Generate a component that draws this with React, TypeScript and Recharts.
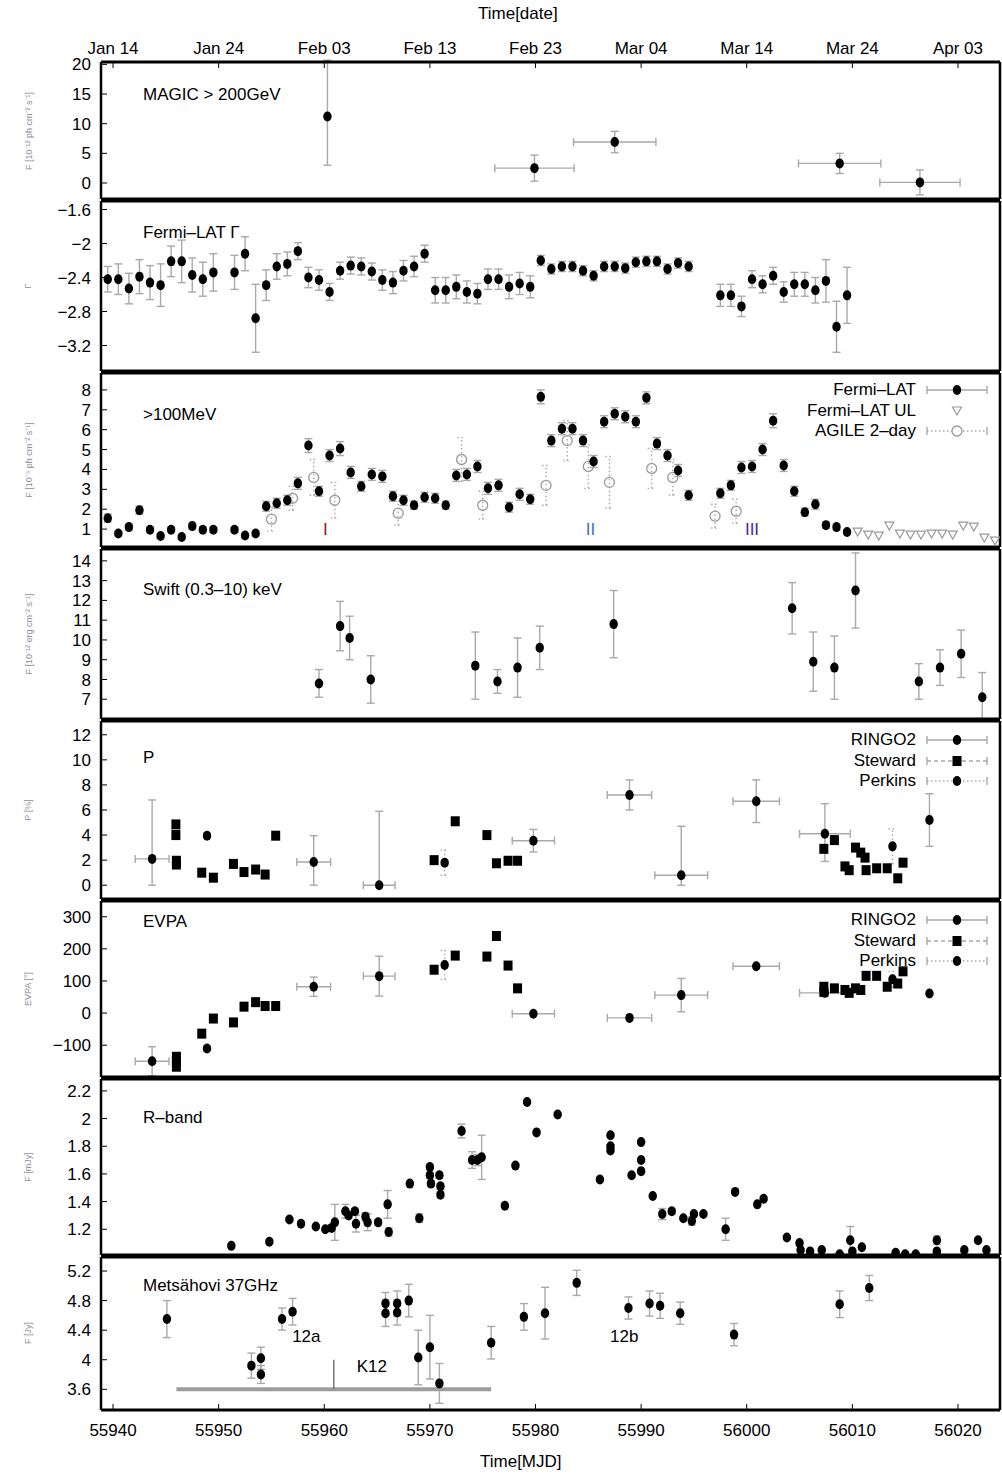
import React from "react";
import { ScatterChart, Scatter, XAxis, YAxis, ErrorBar, ReferenceLine } from "recharts";

const W = 1002;
const FONT = '"Liberation Sans", Arial, Helvetica, sans-serif';
const GREY = "#a9a9a9";
const X_DOMAIN: [number, number] = [55938.86, 56023.98];

const mjdTicks = [55940, 55950, 55960, 55970, 55980, 55990, 56000, 56010, 56020];
const dateLabels = ["Jan 14", "Jan 24", "Feb 03", "Feb 13", "Feb 23", "Mar 04", "Mar 14", "Mar 24", "Apr 03"];

// MAGIC > 200 GeV
const magicX = [55960.3, 55979.9, 55987.5, 56008.8, 56016.4];
const magicY = [11.2, 2.5, 6.9, 3.3, 0.1];
const magicEy: (number | number[])[] = [[8.2, 9.5], 2.2, 1.8, 1.7, 2.1];
const magicEx = [0, 3.75, 3.9, 3.9, 3.8];

// Fermi-LAT daily bins
const latX = [
  55939.5, 55940.5, 55941.5, 55942.5, 55943.5, 55944.5, 55945.5, 55946.5, 55947.5, 55948.5, 55949.5,
  55951.5, 55952.5, 55953.5, 55954.5, 55955.5, 55956.5, 55957.5, 55958.5, 55959.5, 55960.5,
  55961.5, 55962.5, 55963.5, 55964.5, 55965.5, 55966.5, 55967.5, 55968.5, 55969.5, 55970.5,
  55971.5, 55972.5, 55973.5, 55974.5, 55975.5, 55976.5, 55977.5, 55978.5, 55979.5, 55980.5,
  55981.5, 55982.5, 55983.5, 55984.5, 55985.5, 55986.5, 55987.5, 55988.5, 55989.5, 55990.5,
  55991.5, 55992.5, 55993.5, 55994.5,
  55997.5, 55998.5, 55999.5, 56000.5, 56001.5, 56002.5, 56003.5, 56004.5, 56005.5, 56006.5, 56007.5, 56008.5, 56009.5,
];
const gammaY = [
  -2.42, -2.42, -2.53, -2.39, -2.46, -2.49, -2.21, -2.21, -2.37, -2.42, -2.34,
  -2.34, -2.12, -2.88, -2.49, -2.27, -2.24, -2.09, -2.4, -2.43, -2.57,
  -2.32, -2.26, -2.27, -2.33, -2.43, -2.46, -2.32, -2.27, -2.12, -2.55,
  -2.55, -2.51, -2.57, -2.59, -2.42, -2.42, -2.51, -2.47, -2.51, -2.2,
  -2.3, -2.27, -2.27, -2.32, -2.38, -2.27, -2.27, -2.29, -2.22, -2.21,
  -2.21, -2.3, -2.23, -2.27,
  -2.61, -2.61, -2.74, -2.42, -2.48, -2.38, -2.57, -2.48, -2.48, -2.55, -2.44, -2.98, -2.61,
];
const gammaE = [
  0.15, 0.18, 0.18, 0.2, 0.2, 0.25, 0.18, 0.25, 0.2, 0.2, 0.22,
  0.2, 0.2, 0.4, 0.18, 0.15, 0.14, 0.1, 0.12, 0.12, 0.1,
  0.1, 0.1, 0.1, 0.1, 0.12, 0.13, 0.12, 0.12, 0.1, 0.15,
  0.15, 0.14, 0.13, 0.12, 0.12, 0.12, 0.14, 0.13, 0.13, 0.06,
  0.06, 0.06, 0.06, 0.06, 0.06, 0.06, 0.06, 0.06, 0.06, 0.06,
  0.06, 0.06, 0.06, 0.06,
  0.13, 0.13, 0.12, 0.1, 0.1, 0.1, 0.12, 0.14, 0.14, 0.15, 0.25, 0.3, 0.33,
];
const fluxY = [
  1.55, 0.78, 1.1, 1.95, 0.97, 0.65, 0.97, 0.6, 1.15, 0.97, 0.97,
  0.97, 0.68, 0.78, 2.15, 2.3, 2.45, 3.3, 5.2, 2.9, 4.7,
  5.05, 3.85, 3.15, 3.75, 3.65, 2.65, 2.45, 2.2, 2.6, 2.55,
  2.2, 3.7, 3.75, 4.15, 3.05, 3.2, 2.1, 2.75, 2.5, 7.65,
  5.45, 6.05, 6.05, 5.45, 4.4, 6.4, 6.8, 6.65, 6.4, 7.6,
  5.3, 4.7, 3.95, 2.7,
  2.8, 3.2, 4.1, 4.15, 5.0, 6.45, 4.2, 2.9, 1.85, 2.25, 1.2, 1.1, 0.85,
];
const fluxE = [
  0.2, 0.12, 0.15, 0.2, 0.12, 0.1, 0.12, 0.1, 0.15, 0.12, 0.12,
  0.12, 0.1, 0.12, 0.25, 0.25, 0.25, 0.3, 0.35, 0.25, 0.3,
  0.35, 0.3, 0.25, 0.3, 0.3, 0.25, 0.25, 0.2, 0.25, 0.25,
  0.2, 0.3, 0.3, 0.3, 0.3, 0.3, 0.25, 0.3, 0.25, 0.35,
  0.3, 0.3, 0.3, 0.3, 0.3, 0.3, 0.3, 0.3, 0.3, 0.3,
  0.3, 0.3, 0.3, 0.25,
  0.25, 0.25, 0.3, 0.3, 0.3, 0.35, 0.3, 0.25, 0.2, 0.25, 0.15, 0.15, 0.12,
];
const ulX = [56010.5, 56011.5, 56012.5, 56013.5, 56014.5, 56015.5, 56016.5, 56017.5, 56018.5, 56019.5, 56020.5, 56021.5, 56022.5, 56023.5];
const ulY = [0.85, 0.7, 0.65, 1.15, 0.75, 0.7, 0.7, 0.75, 0.75, 0.7, 1.15, 1.1, 0.55, 0.4];
const agileX = [55955, 55957, 55959, 55961, 55967, 55973, 55975, 55981, 55983, 55985, 55987, 55991, 55993, 55997, 55999];
const agileY = [1.5, 2.55, 3.6, 2.45, 1.8, 4.5, 2.2, 3.2, 5.45, 4.15, 3.35, 4.05, 3.6, 1.65, 1.9];
const agileE = [0.6, 0.6, 0.9, 0.9, 0.6, 1.1, 0.7, 1.0, 1.0, 1.1, 1.3, 1.0, 0.9, 0.6, 0.6];
const flareX = [55960.1, 55985.2, 56000.5];
const flareY = [1.0, 1.0, 1.0];
const flareText = ["I", "II", "III"];
const flareColor = ["#8b1a1a", "#3b72c8", "#4b2a96"];

// Swift XRT
const swiftX = [55959.5, 55961.5, 55962.4, 55964.4, 55974.3, 55976.4, 55978.3, 55980.4, 55987.4, 56004.3, 56006.3, 56008.3, 56010.3, 56016.3, 56018.3, 56020.3, 56022.3];
const swiftY = [7.8, 10.7, 10.1, 8.0, 8.7, 7.9, 8.6, 9.6, 10.8, 11.6, 8.9, 8.6, 12.5, 7.9, 8.6, 9.3, 7.1];
const swiftE = [0.7, 1.25, 1.1, 1.2, 1.7, 0.6, 1.5, 1.1, 1.7, 1.3, 1.5, 1.6, 1.9, 0.9, 0.9, 1.2, 1.25];

// Polarisation degree
const ringoX = [55943.7, 55959.0, 55965.2, 55979.8, 55988.9, 55993.8, 56000.9, 56007.4, 56017.3];
const ringoEx = [1.6, 1.6, 1.5, 2.0, 2.1, 2.5, 2.2, 2.4, 0];
const ringoP = [2.1, 1.85, 0.0, 3.55, 7.2, 0.8, 6.7, 4.1, 5.2];
const ringoPe: (number | number[])[] = [[2.1, 4.7], [1.85, 2.1], [0, 5.9], 0.9, 1.2, [0.8, 3.9], 1.7, [2.2, 2.4], 2.1];
const stewPX = [
  55945.95, 55945.95, 55946.0, 55946.0, 55948.4, 55949.5, 55951.4, 55952.4, 55953.5, 55954.4, 55955.4,
  55970.4, 55972.4, 55975.4, 55976.3, 55977.4, 55978.3, 56007.3, 56008.3, 56009.3, 56009.7,
  56010.3, 56010.8, 56011.2, 56011.3, 56012.3, 56013.3, 56014.3, 56014.8,
];
const stewP = [
  4.85, 4.0, 1.95, 1.65, 1.0, 0.6, 1.7, 1.05, 1.25, 0.85, 3.95,
  2.0, 5.1, 4.0, 1.75, 1.95, 1.95, 2.9, 3.6, 1.5, 1.2,
  3.0, 2.6, 2.2, 1.2, 1.35, 1.35, 0.55, 1.8,
];
const perkX = [55948.9, 55971.4, 56013.8];
const perkP = [3.95, 1.8, 3.1];
const perkPe = [0.2, 1.0, 1.4];

// EVPA
const ringoEvpa = [-150, 82, 115, -2, -15, 56, 146, 63, 61];
const ringoEvpaE = [45, 30, 62, 0, 0, 52, 0, 0, 0];
const stewEX = [
  55946.0, 55946.0, 55946.0, 55948.4, 55949.5, 55951.4, 55952.4, 55953.5, 55954.4, 55955.4,
  55970.4, 55972.4, 55975.4, 55976.3, 55977.4, 55978.3, 56007.3, 56007.3, 56008.3, 56009.3,
  56009.7, 56010.3, 56010.8, 56011.3, 56012.3, 56013.3, 56014.3, 56014.8,
];
const stewEvpa = [
  -136, -150, -167, -64, -17, -29, 20, 34, 22, 22,
  135, 179, 176, 240, 148, 77, 82, 66, 77, 72,
  63, 77, 72, 116, 116, 82, 92, 130,
];
const perkEvpa = [-110, 150, 105];
const perkEvpaE = [8, 45, 25];

// R-band
const rX = [
  55951.2, 55954.8, 55956.7, 55957.8, 55959.2, 55960.1, 55960.7, 55961.0, 55962.0, 55962.3,
  55962.9, 55963.0, 55963.9, 55964.1, 55965.1, 55966.0, 55966.1, 55968.1, 55969.0, 55970.0,
  55970.0, 55970.1, 55970.9, 55971.0, 55971.0, 55973.0, 55974.0, 55974.5, 55974.9, 55977.1,
  55978.1, 55979.2, 55980.1, 55982.1, 55986.1, 55987.1, 55987.1, 55987.1, 55989.1, 55990.0,
  55990.0, 55990.0, 55991.1, 55992.0, 55992.9, 55994.0, 55994.8, 55995.0, 55995.9, 55998.0,
  55998.9, 56001.0, 56001.6, 56003.8, 56005.0, 56005.1, 56006.0, 56007.1, 56008.8, 56009.8,
  56010.0, 56010.9, 56014.1, 56015.0, 56016.0, 56018.0, 56018.0, 56020.6, 56021.9, 56022.7,
];
const rY = [
  1.08, 1.11, 1.27, 1.24, 1.22, 1.2, 1.21, 1.25, 1.33, 1.3,
  1.33, 1.24, 1.29, 1.25, 1.25, 1.38, 1.18, 1.53, 1.28, 1.65,
  1.59, 1.53, 1.59, 1.51, 1.45, 1.91, 1.7, 1.7, 1.72, 1.37,
  1.66, 2.12, 1.9, 2.03, 1.56, 1.77, 1.8, 1.88, 1.59, 1.83,
  1.7, 1.62, 1.44, 1.31, 1.33, 1.28, 1.26, 1.31, 1.31, 1.2,
  1.47, 1.38, 1.42, 1.14, 1.1, 1.05, 1.04, 1.05, 1.02, 1.12,
  1.04, 1.07, 1.03, 1.02, 1.02, 1.12, 1.04, 1.05, 1.12, 1.05,
];
const rE = [
  0.01, 0.01, 0.01, 0.01, 0.01, 0.01, 0.02, 0.13, 0.05, 0.02,
  0.02, 0.06, 0.03, 0.06, 0.02, 0.1, 0.03, 0.01, 0.03, 0.02,
  0.02, 0.02, 0.02, 0.02, 0.02, 0.05, 0.06, 0.04, 0.16, 0.01,
  0.01, 0.01, 0.01, 0.01, 0.01, 0.01, 0.01, 0.01, 0.01, 0.01,
  0.01, 0.01, 0.01, 0.04, 0.02, 0.01, 0.03, 0.01, 0.01, 0.08,
  0.01, 0.01, 0.01, 0.01, 0.01, 0.01, 0.01, 0.01, 0.01, 0.1,
  0.01, 0.01, 0.01, 0.01, 0.01, 0.03, 0.01, 0.01, 0.01, 0.01,
];

// Metsähovi 37 GHz
const mX = [
  55945.1, 55953.1, 55954.0, 55954.0, 55956.0, 55957.0, 55965.8, 55965.8, 55966.9, 55966.9,
  55968.0, 55968.9, 55970.0, 55970.9, 55975.8, 55978.9, 55980.9, 55983.9, 55988.8, 55990.8,
  55991.8, 55993.7, 55998.8, 56008.8, 56011.6,
];
const mY = [
  4.55, 3.92, 4.02, 3.8, 4.55, 4.65, 4.76, 4.63, 4.76, 4.64,
  4.8, 4.03, 4.17, 3.68, 4.23, 4.58, 4.63, 5.04, 4.7, 4.76,
  4.73, 4.63, 4.34, 4.75, 4.97,
];
const mE = [
  0.25, 0.17, 0.15, 0.12, 0.15, 0.18, 0.15, 0.18, 0.17, 0.17,
  0.22, 0.37, 0.43, 0.27, 0.22, 0.18, 0.35, 0.17, 0.15, 0.17,
  0.17, 0.15, 0.15, 0.18, 0.17,
];
const k12Start = 55946.0;
const k12End = 55975.8;
const k12Epoch = 55960.9;
const radioTagX = [55958.3, 55964.5, 55988.4];
const radioTagY = [4.31, 3.91, 4.31];
const radioTagText = ["12a", "K12", "12b"];

type Row = { x: number; y: number; ey: number | number[]; ex: number; t?: string; c?: string };
function rows(xs: number[], ys: number[], ey?: (number | number[])[], ex?: number[]): Row[] {
  return xs.map((x, i) => ({ x, y: ys[i], ey: ey ? ey[i] : 0, ex: ex ? ex[i] : 0 }));
}

const dot = (p: any) => <ellipse cx={p.cx} cy={p.cy} rx={4.2} ry={5} fill="#000" />;
const square = (p: any) => <rect x={p.cx - 4.5} y={p.cy - 5} width={9} height={10} fill="#000" />;
const ring = (p: any) => <circle cx={p.cx} cy={p.cy} r={5} fill="none" stroke="#9a9a9a" strokeWidth={1.3} />;
const tri = (p: any) => (
  <path d={`M${p.cx - 4.5},${p.cy - 4}L${p.cx + 4.5},${p.cy - 4}L${p.cx},${p.cy + 4}Z`} fill="none" stroke="#9a9a9a" strokeWidth={1.2} />
);
const tag = (p: any) => (
  <text x={p.cx} y={p.cy} textAnchor="middle" dominantBaseline="central" fontSize={17} fontFamily={FONT} fill={p.payload.c}>
    {p.payload.t}
  </text>
);

const frameLine = { stroke: "#000", strokeWidth: 3 };
const sideLine = { stroke: "#000", strokeWidth: 2.5 };
const tickLine = { stroke: "#000", strokeWidth: 1 };
const tickFont = { fontSize: 17, fill: "#000", fontFamily: FONT };
const fmt = (v: number) => String(v).replace("-", "\u2212");
const dateFmt = (v: number) => dateLabels[mjdTicks.indexOf(v)] ?? "";

function Panel(props: {
  height: number;
  topAxis?: boolean;
  bottomAxis?: boolean;
  domain: [number, number];
  ticks: number[];
  children: React.ReactNode;
}) {
  const { height, topAxis, bottomAxis, domain, ticks, children } = props;
  return (
    <ScatterChart width={W} height={height} margin={{ top: 0, right: 0, bottom: 0, left: 0 }}>
      <XAxis xAxisId={0} type="number" dataKey="x" domain={X_DOMAIN} ticks={mjdTicks} allowDataOverflow interval={0}
        orientation="bottom" height={bottomAxis ? 66 : 1} axisLine={frameLine} tickLine={tickLine} tickSize={-6}
        tickMargin={20} tick={bottomAxis ? tickFont : false} />
      <XAxis xAxisId="t" type="number" dataKey="x" domain={X_DOMAIN} ticks={mjdTicks} allowDataOverflow interval={0}
        orientation="top" height={topAxis ? 62 : 1} axisLine={frameLine} tickLine={tickLine} tickSize={-6}
        tickMargin={14} tick={topAxis ? tickFont : false} tickFormatter={dateFmt} />
      <YAxis yAxisId={0} type="number" dataKey="y" domain={domain} ticks={ticks} allowDataOverflow interval={0}
        width={101} axisLine={sideLine} tickLine={tickLine} tickSize={-6} tickMargin={16} tick={tickFont}
        tickFormatter={fmt} />
      <YAxis yAxisId="r" orientation="right" type="number" dataKey="y" domain={domain} ticks={ticks} allowDataOverflow
        interval={0} width={2} axisLine={sideLine} tickLine={tickLine} tickSize={-6} tick={false} />
      {children}
    </ScatterChart>
  );
}

function Sym({ kind }: { kind: string }) {
  const dash = kind === "steward" ? "4 3" : kind === "perkins" || kind === "agile" ? "1.5 2.5" : undefined;
  return (
    <svg width={66} height={18} style={{ display: "block" }}>
      {kind !== "ul" && (
        <g stroke={GREY} strokeWidth={1.4}>
          <line x1={3} y1={9} x2={63} y2={9} strokeDasharray={dash} />
          <line x1={3} y1={5} x2={3} y2={13} />
          <line x1={63} y1={5} x2={63} y2={13} />
        </g>
      )}
      {kind === "ul" && <path d="M28.5,5L37.5,5L33,13Z" fill="none" stroke="#9a9a9a" strokeWidth={1.2} />}
      {kind === "agile" && <circle cx={33} cy={9} r={5} fill="#fff" stroke="#9a9a9a" strokeWidth={1.3} />}
      {(kind === "lat" || kind === "perkins") && <ellipse cx={33} cy={9} rx={4.2} ry={5} fill="#000" />}
      {kind === "steward" && <rect x={28.5} y={4} width={9} height={10} fill="#000" />}
    </svg>
  );
}

function Legend({ top, items }: { top: number; items: [string, string][] }) {
  return (
    <div style={{ position: "absolute", top, left: 700, width: 290 }}>
      {items.map(([label, kind]) => (
        <div key={label} style={{ display: "flex", alignItems: "center", height: 20.5, justifyContent: "flex-end" }}>
          <span style={{ fontSize: 17, marginRight: 8, lineHeight: "18px" }}>{label}</span>
          <Sym kind={kind} />
        </div>
      ))}
    </div>
  );
}

function Note({ x, y, text, size = 17, color = "#000" }: { x: number; y: number; text: string; size?: number; color?: string }) {
  return (
    <div style={{ position: "absolute", left: x, top: y, fontSize: size, color, whiteSpace: "nowrap", lineHeight: "20px" }}>
      {text}
    </div>
  );
}

function YLab({ cy, text }: { cy: number; text: string }) {
  return (
    <div style={{ position: "absolute", left: 28, top: cy, width: 0, height: 0 }}>
      <div style={{ position: "absolute", transform: "translate(-50%, -50%) rotate(-90deg)", fontSize: 9, color: "#8e8ea2", whiteSpace: "nowrap" }}>
        {text}
      </div>
    </div>
  );
}

const err = (key: string, dir: "x" | "y", dash?: string) => (
  <ErrorBar dataKey={key} direction={dir} stroke={GREY} strokeWidth={1.4} width={4} strokeDasharray={dash} isAnimationActive={false} />
);

export default function App() {
  const magic = rows(magicX, magicY, magicEy, magicEx);
  const gamma = rows(latX, gammaY, gammaE);
  const flux = rows(latX, fluxY, fluxE);
  const ul = rows(ulX, ulY);
  const agile = rows(agileX, agileY, agileE);
  const flares: Row[] = flareX.map((x, i) => ({ x, y: flareY[i], ey: 0, ex: 0, t: flareText[i], c: flareColor[i] }));
  const swift = rows(swiftX, swiftY, swiftE);
  const ringoPol = rows(ringoX, ringoP, ringoPe, ringoEx);
  const stewPol = rows(stewPX, stewP);
  const perkPol = rows(perkX, perkP, perkPe);
  const ringoAng = rows(ringoX, ringoEvpa, ringoEvpaE, ringoEx);
  const stewAng = rows(stewEX, stewEvpa);
  const perkAng = rows(perkX, perkEvpa, perkEvpaE);
  const rband = rows(rX, rY, rE);
  const radio = rows(mX, mY, mE);
  const radioTags: Row[] = radioTagX.map((x, i) => ({ x, y: radioTagY[i], ey: 0, ex: 0, t: radioTagText[i], c: "#000" }));

  return (
    <div style={{ position: "absolute", left: 0, top: 0, width: W, height: 1476, background: "#fff", fontFamily: FONT, color: "#000" }}>
      <Panel height={200} topAxis domain={[-2.7, 20.4]} ticks={[0, 5, 10, 15, 20]}>
        <Scatter data={magic} shape={dot} isAnimationActive={false}>
          {err("ey", "y")}
          {err("ex", "x")}
        </Scatter>
      </Panel>
      <Panel height={172} domain={[-3.5, -1.5]} ticks={[-1.6, -2, -2.4, -2.8, -3.2]}>
        <Scatter data={gamma} shape={dot} isAnimationActive={false}>
          {err("ey", "y")}
        </Scatter>
      </Panel>
      <Panel height={176} domain={[0.1, 8.85]} ticks={[1, 2, 3, 4, 5, 6, 7, 8]}>
        <Scatter data={agile} shape={ring} isAnimationActive={false}>
          {err("ey", "y", "1.5 2.5")}
        </Scatter>
        <Scatter data={ul} shape={tri} isAnimationActive={false} />
        <Scatter data={flux} shape={dot} isAnimationActive={false}>
          {err("ey", "y")}
        </Scatter>
        <Scatter data={flares} shape={tag} isAnimationActive={false} />
      </Panel>
      <Panel height={172} domain={[6, 14.6]} ticks={[7, 8, 9, 10, 11, 12, 13, 14]}>
        <Scatter data={swift} shape={dot} isAnimationActive={false}>
          {err("ey", "y")}
        </Scatter>
      </Panel>
      <Panel height={180} domain={[-1.1, 13.1]} ticks={[0, 2, 4, 6, 8, 10, 12]}>
        <Scatter data={ringoPol} shape={dot} isAnimationActive={false}>
          {err("ey", "y")}
          {err("ex", "x")}
        </Scatter>
        <Scatter data={stewPol} shape={square} isAnimationActive={false} />
        <Scatter data={perkPol} shape={dot} isAnimationActive={false}>
          {err("ey", "y", "1.5 2.5")}
        </Scatter>
      </Panel>
      <Panel height={178} domain={[-199, 349]} ticks={[-100, 0, 100, 200, 300]}>
        <Scatter data={ringoAng} shape={dot} isAnimationActive={false}>
          {err("ey", "y")}
          {err("ex", "x")}
        </Scatter>
        <Scatter data={stewAng} shape={square} isAnimationActive={false} />
        <Scatter data={perkAng} shape={dot} isAnimationActive={false}>
          {err("ey", "y", "1.5 2.5")}
        </Scatter>
      </Panel>
      <Panel height={178} domain={[1.014, 2.286]} ticks={[1.2, 1.4, 1.6, 1.8, 2, 2.2]}>
        <Scatter data={rband} shape={dot} isAnimationActive={false}>
          {err("ey", "y")}
        </Scatter>
      </Panel>
      <Panel height={220} bottomAxis domain={[3.32, 5.39]} ticks={[3.6, 4, 4.4, 4.8, 5.2]}>
        <ReferenceLine segment={[{ x: k12Start, y: 3.6 }, { x: k12End, y: 3.6 }]} stroke="#9c9c9c" strokeWidth={4} />
        <ReferenceLine segment={[{ x: k12Epoch, y: 3.6 }, { x: k12Epoch, y: 4.0 }]} stroke="#777" strokeWidth={1.5} />
        <Scatter data={radio} shape={dot} isAnimationActive={false}>
          {err("ey", "y")}
        </Scatter>
        <Scatter data={radioTags} shape={tag} isAnimationActive={false} />
      </Panel>

      <Note x={478} y={4} text="Time[date]" />
      <Note x={480} y={1452} text="Time[MJD]" />

      <Note x={143} y={85} text="MAGIC > 200GeV" />
      <Note x={143} y={223} text="Fermi–LAT Γ" />
      <Note x={143} y={405} text=">100MeV" />
      <Note x={143} y={580} text="Swift (0.3–10) keV" />
      <Note x={143} y={748} text="P" />
      <Note x={143} y={912} text="EVPA" />
      <Note x={143} y={1108} text="R–band" />
      <Note x={143} y={1276} text="Metsähovi 37GHz" />

      <YLab cy={131} text="F [10⁻¹² ph cm⁻² s⁻¹]" />
      <YLab cy={286} text="Γ" />
      <YLab cy={460} text="F [10⁻⁶ ph cm⁻² s⁻¹]" />
      <YLab cy={634} text="F [10⁻¹² erg cm⁻² s⁻¹]" />
      <YLab cy={810} text="P [%]" />
      <YLab cy={989} text="EVPA [°]" />
      <YLab cy={1167} text="F [mJy]" />
      <YLab cy={1333} text="F [Jy]" />

      <Legend top={380} items={[["Fermi–LAT", "lat"], ["Fermi–LAT UL", "ul"], ["AGILE 2–day", "agile"]]} />
      <Legend top={730} items={[["RINGO2", "lat"], ["Steward", "steward"], ["Perkins", "perkins"]]} />
      <Legend top={910} items={[["RINGO2", "lat"], ["Steward", "steward"], ["Perkins", "perkins"]]} />
    </div>
  );
}
